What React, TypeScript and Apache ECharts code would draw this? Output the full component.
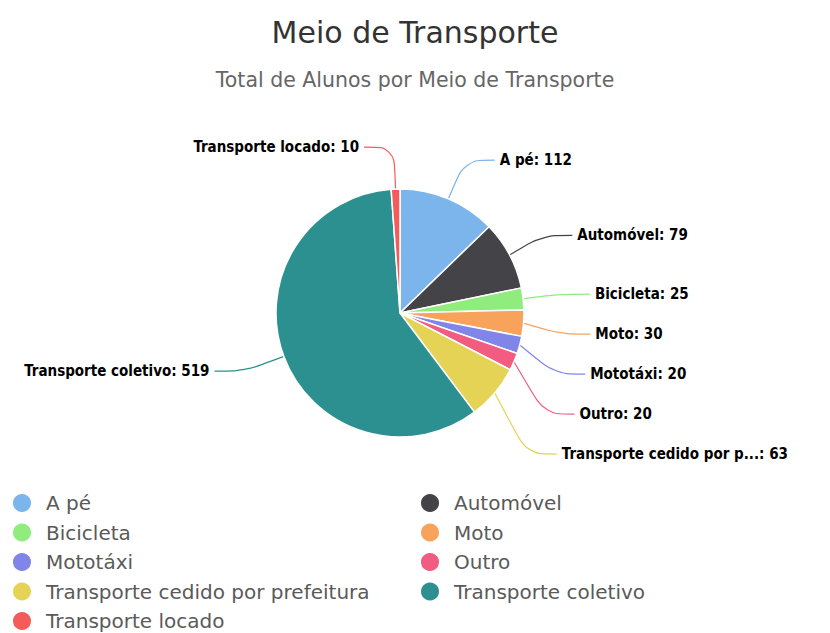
import React, { useEffect, useRef } from "react";
import * as echarts from "echarts";

const categories = [
  "A pé",
  "Automóvel",
  "Bicicleta",
  "Moto",
  "Mototáxi",
  "Outro",
  "Transporte cedido por prefeitura",
  "Transporte coletivo",
  "Transporte locado",
];
const values = [112, 79, 25, 30, 20, 20, 63, 519, 10];
const colors = [
  "#7cb5ec",
  "#434348",
  "#90ed7d",
  "#f7a35c",
  "#8085e9",
  "#f15c80",
  "#e4d354",
  "#2b908f",
  "#f45b5b",
];
const titleText = "Meio de Transporte";
const subtitleText = "Total de Alunos por Meio de Transporte";

function shortName(n: string) {
  return n.length > 25 ? n.slice(0, 23) + "..." : n;
}

export default function App() {
  const ref = useRef<HTMLDivElement>(null);
  useEffect(() => {
    if (!ref.current) return;
    const chart = echarts.init(ref.current, undefined, { renderer: "svg" });
    const leftCol = categories.filter((_, i) => i % 2 === 0);
    const rightCol = categories.filter((_, i) => i % 2 === 1);
    const legendCommon = {
      orient: "vertical" as const,
      top: 487,
      height: 180,
      icon: "circle",
      itemWidth: 38,
      itemHeight: 20,
      itemGap: 7.5,
      textStyle: {
        fontFamily: "DejaVu Sans",
        fontSize: 20,
        lineHeight: 20,
        color: "#5a5a5a",
      },
    };
    chart.setOption({
      animation: false,
      color: colors,
      title: {
        text: titleText,
        subtext: subtitleText,
        left: "center",
        top: 11,
        itemGap: 21,
        textStyle: {
          fontFamily: "DejaVu Sans",
          fontWeight: "normal",
          fontSize: 30,
          lineHeight: 32,
          color: "#333",
        },
        subtextStyle: {
          fontFamily: "DejaVu Sans",
          fontSize: 20.5,
          lineHeight: 22,
          color: "#666",
        },
      },
      legend: [
        { ...legendCommon, left: 6, data: leftCol },
        { ...legendCommon, left: 414, data: rightCol },
      ],
      series: [
        {
          type: "pie",
          center: [400, 313],
          radius: 124,
          startAngle: 90,
          clockwise: true,
          data: categories.map((c, i) => ({ name: c, value: values[i] })),
          itemStyle: { borderColor: "#fff", borderWidth: 1.5 },
          label: {
            show: true,
            position: "outside",
            formatter: (p: any) => shortName(p.name) + ": " + p.value,
            fontFamily: "DejaVu Sans Condensed",
            fontWeight: "bold",
            fontSize: 15,
            lineHeight: 18,
            padding: [10, 0],
            color: "#000",
            textBorderColor: "#fff",
            textBorderWidth: 1,
          },
          labelLine: {
            show: true,
            length: 42,
            length2: 30,
            smooth: 0.35,
            lineStyle: { width: 1.2 },
          },
          emphasis: { disabled: true },
        },
      ],
    });
    return () => chart.dispose();
  }, []);
  return (
    <div
      ref={ref}
      style={{ position: "fixed", left: 0, top: 0, width: 830, height: 633, background: "#fff" }}
    />
  );
}
